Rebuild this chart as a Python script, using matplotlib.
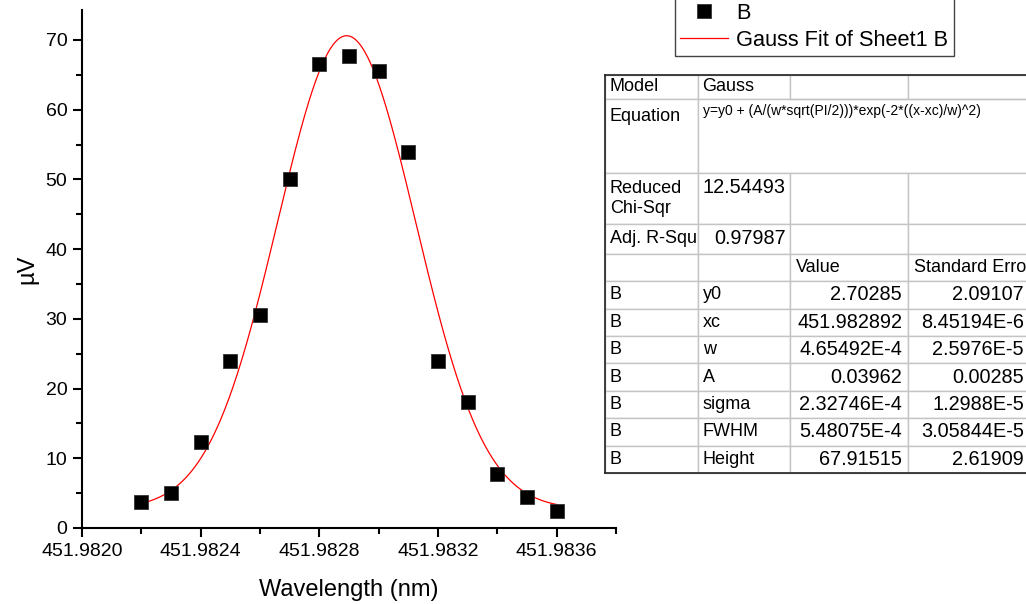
import matplotlib
matplotlib.use("Agg")
import matplotlib.pyplot as plt
import numpy as np

plt.rcParams['font.family'] = ['Liberation Sans', 'DejaVu Sans']

# measured data (wavelength in nm, signal in uV)
wavelength = [451.9822, 451.9823, 451.9824, 451.9825, 451.9826, 451.9827, 451.9828,
              451.9829, 451.9830, 451.9831, 451.9832, 451.9833, 451.9834, 451.9835,
              451.9836]
signal = [3.7, 5.0, 12.4, 24.0, 30.5, 50.0, 66.6, 67.7, 65.5, 54.0, 24.0, 18.1,
          7.8, 4.5, 2.5]

# fit report
fit_model = "Gauss"
fit_equation = "y=y0 + (A/(w*sqrt(PI/2)))*exp(-2*((x-xc)/w)^2)"
reduced_chi = "12.54493"
adj_r2 = "0.97987"
param_names = ["y0", "xc", "w", "A", "sigma", "FWHM", "Height"]
param_values = ["2.70285", "451.982892", "4.65492E-4", "0.03962", "2.32746E-4",
                "5.48075E-4", "67.91515"]
param_errors = ["2.09107", "8.45194E-6", "2.5976E-5", "0.00285", "1.2988E-5",
                "3.05844E-5", "2.61909"]

W, H = 1026, 604
fig = plt.figure(figsize=(W / 100, H / 100), dpi=100)
ax = fig.add_axes([82 / W, 1 - 528 / H, 534 / W, 518 / H])

# gauss curve from the fitted parameters
p = dict(zip(param_names, [float(v) for v in param_values]))
xf = np.linspace(wavelength[0], wavelength[-1], 400)
yf = p["y0"] + p["A"] / (p["w"] * np.sqrt(np.pi / 2)) * np.exp(-2 * ((xf - p["xc"]) / p["w"]) ** 2)

pts, = ax.plot(wavelength, signal, 's', ms=9.5, color='k', mec='#333', mew=0.6,
               label='B', zorder=3)
fit_line, = ax.plot(xf, yf, '-', color='red', lw=0.9, label='Gauss Fit of Sheet1 B')

ax.set_xlim(451.9820, 451.9838)
ax.set_ylim(0, 74.3)
ax.xaxis.set_major_locator(plt.MultipleLocator(0.0004))
ax.xaxis.set_minor_locator(plt.MultipleLocator(0.0002))
ax.yaxis.set_major_locator(plt.MultipleLocator(10))
ax.yaxis.set_minor_locator(plt.MultipleLocator(5))
ax.xaxis.set_major_formatter(plt.FormatStrFormatter('%.4f'))
ax.spines[['top', 'right']].set_visible(False)
for s in ['left', 'bottom']:
    ax.spines[s].set_linewidth(1.5)
ax.tick_params(which='major', direction='out', length=6.5, width=1.5, labelsize=14, pad=4)
ax.tick_params(which='minor', direction='out', length=4, width=1.5)
ax.set_xlabel('Wavelength (nm)', fontsize=17, labelpad=14)
ax.set_ylabel('µV', fontsize=17, labelpad=5)

fig.legend(handles=[pts, fit_line], loc='lower left',
           bbox_to_anchor=(675 / W, 1 - 56 / H), bbox_transform=fig.transFigure,
           borderaxespad=0, fancybox=False, edgecolor='#444', framealpha=1,
           fontsize=15.7, handlelength=2.2, handletextpad=0.35, borderpad=0.25,
           labelspacing=0.25, numpoints=1)

# fit report table
col_w = [93, 92, 118, 122]
row_h = [24, 74, 51, 30] + [27.4] * 8
tab_ax = fig.add_axes([605 / W, 1 - 473 / H, sum(col_w) / W, sum(row_h) / H])
tab_ax.set_xticks([])
tab_ax.set_yticks([])
tab_ax.spines['right'].set_visible(False)
for s in ['left', 'top', 'bottom']:
    tab_ax.spines[s].set_linewidth(1.2)
    tab_ax.spines[s].set_color('#222')

cells = [["Model", fit_model, "", ""],
         ["Equation\n\n", fit_equation + "\n\n\n", "", ""],
         ["Reduced\nChi-Sqr", reduced_chi + "\n", "", ""],
         ["Adj. R-Squ", adj_r2, "", ""],
         ["", "", "Value", "Standard Error"]]
for n, v, e in zip(param_names, param_values, param_errors):
    cells.append(["B", n, v, e])

tab = tab_ax.table(cellText=cells, bbox=[0, 0, 1, 1], cellLoc='left')
tab.auto_set_font_size(False)
for (r, c), cell in tab.get_celld().items():
    cell.set_width(col_w[c])
    cell.set_height(row_h[r])
    cell.set_edgecolor('#c4c4c4')
    cell.set_linewidth(1)
    cell.PAD = 0.05
    t = cell.get_text()
    t.set_fontsize(13)
    is_num = (r in (2, 3) and c == 1) or (r >= 5 and c >= 2)
    if is_num:
        t.set_horizontalalignment('right')
        t.set_fontsize(14.3)
    if r == 1 and c == 1:
        t.set_fontsize(10)
        t.set_horizontalalignment('left')
    if r == 1 and c >= 1:
        cell.visible_edges = 'BTL' if c == 1 else 'BT'

fig.savefig('out.png', dpi=100)
